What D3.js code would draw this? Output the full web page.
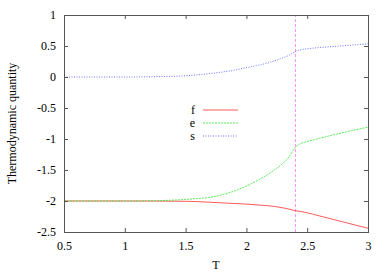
<!DOCTYPE html>
<html>
<head>
    <meta charset="utf-8">
    <script src="https://cdnjs.cloudflare.com/ajax/libs/d3/7.8.5/d3.min.js"></script>
    <style>
        body { margin: 0; background: #fff; }
        svg text { font-family: "Liberation Serif", "Times New Roman", "DejaVu Serif", serif; font-size: 12px; fill: #000; }
    </style>
</head>
<body>
    <div id="root"></div>
    <script>
        // temperatures where curves were read
        const temps = [0.5, 0.75, 1.0, 1.25, 1.5, 1.6, 1.7, 1.8, 1.9, 2.0, 2.1, 2.2, 2.3, 2.35, 2.4, 2.45, 2.5, 2.6, 2.7, 2.8, 2.9, 3.0]
        const fVals = [-2.0, -2.0, -2.0, -2.001, -2.005, -2.01, -2.02, -2.03, -2.04, -2.05, -2.065, -2.08, -2.11, -2.13, -2.155, -2.17, -2.19, -2.24, -2.29, -2.34, -2.39, -2.44]
        const eVals = [-2.0, -2.0, -2.0, -1.995, -1.975, -1.96, -1.94, -1.9, -1.84, -1.76, -1.66, -1.54, -1.39, -1.29, -1.14, -1.07, -1.04, -0.99, -0.94, -0.895, -0.85, -0.81]
        const sVals = [0, 0, 0, 0.005, 0.02, 0.035, 0.055, 0.08, 0.11, 0.15, 0.19, 0.24, 0.31, 0.35, 0.41, 0.44, 0.455, 0.475, 0.49, 0.505, 0.52, 0.535]
        const seriesNames = ['f', 'e', 's']
        const xTicks = [0.5, 1, 1.5, 2, 2.5, 3]
        const yTicks = [-2.5, -2, -1.5, -1, -0.5, 0, 0.5, 1]
        const tCrit = 2.4

        const w = 392
        const h = 274
        const mLeft = 64, mRight = 368, mTop = 15, mBottom = 232
        const serif = '"Liberation Serif", "Times New Roman", "DejaVu Serif", serif'

        const x = d3.scaleLinear().domain([0.5, 3]).range([mLeft, mRight])
        const y = d3.scaleLinear().domain([-2.5, 1]).range([mBottom, mTop])
        const fmt = d => String(d)

        const svg = d3.select('#root').append('svg')
            .attr('width', w)
            .attr('height', h)
            .attr('font-family', serif)

        const styles = {
            f: { color: '#ff3030', dash: null },
            e: { color: '#30e830', dash: '2,1' },
            s: { color: '#5050ff', dash: '1,1.5' }
        }
        const allSeries = { f: fVals, e: eVals, s: sVals }

        // critical temperature marker
        svg.append('line')
            .attr('x1', x(tCrit) + 0.5).attr('x2', x(tCrit) + 0.5)
            .attr('y1', y(-2.5)).attr('y2', y(1))
            .attr('stroke', '#ff90ff')
            .attr('stroke-dasharray', '3,2')

        const line = d3.line().curve(d3.curveMonotoneX)

        seriesNames.forEach(name => {
            const pts = temps.map((t, i) => [x(t), y(allSeries[name][i])])
            svg.append('path')
                .attr('d', line(pts))
                .attr('fill', 'none')
                .attr('stroke', styles[name].color)
                .attr('stroke-opacity', 0.8)
                .attr('stroke-width', 1)
                .attr('stroke-dasharray', styles[name].dash)
        })

        // axes, gnuplot style with mirrored inward ticks
        const bottomAxis = d3.axisBottom(x).tickValues(xTicks).tickSize(-4).tickPadding(9).tickFormat(fmt)
        const topAxis = d3.axisTop(x).tickValues(xTicks).tickSize(-4).tickFormat('')
        const leftAxis = d3.axisLeft(y).tickValues(yTicks).tickSize(-4).tickPadding(8).tickFormat(fmt)
        const rightAxis = d3.axisRight(y).tickValues(yTicks).tickSize(-4).tickFormat('')

        const gb = svg.append('g').attr('transform', `translate(0,${mBottom})`).call(bottomAxis)
        const gt = svg.append('g').attr('transform', `translate(0,${mTop})`).call(topAxis)
        const gl = svg.append('g').attr('transform', `translate(${mLeft},0)`).call(leftAxis)
        const gr = svg.append('g').attr('transform', `translate(${mRight},0)`).call(rightAxis)

        ;[gb, gt, gl, gr].forEach(g => {
            g.attr('font-family', serif).attr('font-size', 12)
            g.select('.domain').remove()
            g.selectAll('line').attr('stroke', '#555')
            g.selectAll('text').attr('fill', '#000')
        })

        svg.append('rect')
            .attr('x', mLeft).attr('y', mTop)
            .attr('width', mRight - mLeft).attr('height', mBottom - mTop)
            .attr('fill', 'none')
            .attr('stroke', '#555')
            .attr('shape-rendering', 'crispEdges')

        // labels
        svg.append('text')
            .attr('x', (mLeft + mRight) / 2)
            .attr('y', 269)
            .attr('text-anchor', 'middle')
            .text('T')

        svg.append('text')
            .attr('transform', `translate(16,${(mTop + mBottom) / 2}) rotate(-90)`)
            .attr('text-anchor', 'middle')
            .text('Thermodynamic quantity')

        // legend
        seriesNames.forEach((name, i) => {
            const ly = 110 + i * 13
            svg.append('text')
                .attr('x', 195)
                .attr('y', ly)
                .attr('dy', '0.35em')
                .attr('text-anchor', 'end')
                .text(name)
            svg.append('line')
                .attr('x1', 203).attr('x2', 238)
                .attr('y1', ly).attr('y2', ly)
                .attr('stroke', styles[name].color)
                .attr('stroke-opacity', 0.8)
                .attr('stroke-dasharray', styles[name].dash)
        })
    </script>
</body>
</html>
